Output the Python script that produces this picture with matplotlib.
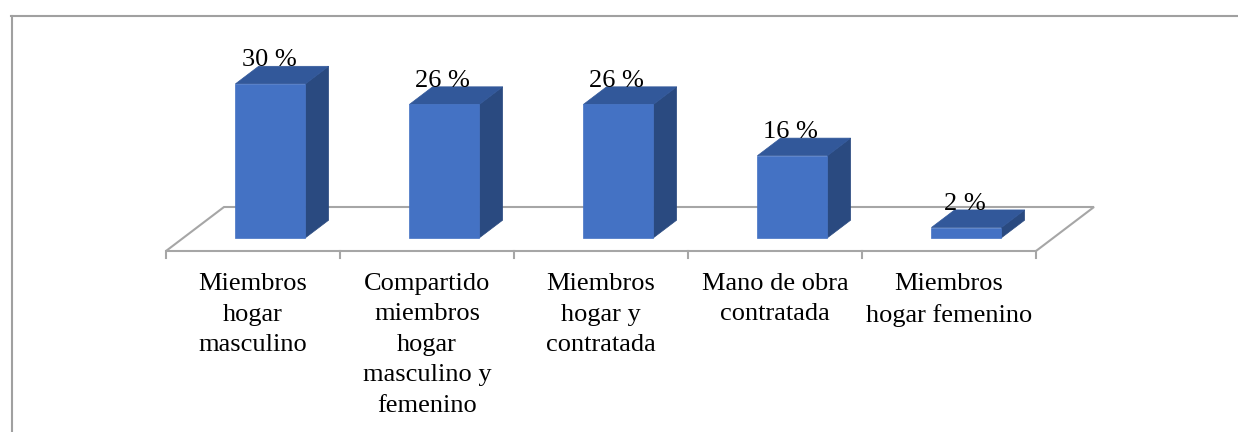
import matplotlib
matplotlib.use("Agg")
import matplotlib.pyplot as plt
from matplotlib.patches import Polygon
from matplotlib.lines import Line2D

categories = ["Miembros\nhogar\nmasculino",
              "Compartido\nmiembros\nhogar\nmasculino y\nfemenino",
              "Miembros\nhogar y\ncontratada",
              "Mano de obra\ncontratada",
              "Miembros\nhogar femenino"]
values = [30, 26, 26, 16, 2]
value_labels = ["30 %", "26 %", "26 %", "16 %", "2 %"]

plt.rcParams['font.family'] = ['Liberation Serif', 'DejaVu Serif']

W, H = 1238, 432
fig = plt.figure(figsize=(W / 100, H / 100), dpi=100)
ax = fig.add_axes([0, 0, 1, 1])
ax.set_axis_off()

# pixel scale
PX_CAT = 174.0      # px per category
PX_VAL = 5.13       # px per percent
X0_PX = 253.0       # px of first category centre (front)
FLOOR_PX = 251.0    # px from top of floor front edge

ax.set_xlim((0 - X0_PX) / PX_CAT, (W - X0_PX) / PX_CAT)
ax.set_ylim(-(H - FLOOR_PX) / PX_VAL, FLOOR_PX / PX_VAL)

DX = 58.0 / PX_CAT   # full depth shift in x (category units)
DY = 44.0 / PX_VAL   # full depth shift in y (percent units)

def proj(c, v, d):
    return (c + d * DX, v + d * DY)

n = len(categories)
floor_col = '#A6A6A6'
# floor parallelogram
fl = [proj(-0.5, 0, 0), proj(n - 0.5, 0, 0), proj(n - 0.5, 0, 1), proj(-0.5, 0, 1)]
ax.add_patch(Polygon(fl, closed=True, facecolor='white', edgecolor=floor_col,
                     linewidth=1.5, zorder=1))
# ticks on front edge
tick_len = 7.0 / PX_VAL
for i in range(n + 1):
    x = -0.5 + i
    ax.add_line(Line2D([x, x], [0, -tick_len], color=floor_col, linewidth=1.5, zorder=1))

# bars
front_c = '#4472C4'
top_c = '#32589A'
side_c = '#2A4A80'
bw = 70.0 / PX_CAT
d0, d1 = 0.3, 0.7
for i, v in enumerate(values):
    xl, xr = i - bw / 2, i + bw / 2
    front = [proj(xl, 0, d0), proj(xr, 0, d0), proj(xr, v, d0), proj(xl, v, d0)]
    top = [proj(xl, v, d0), proj(xr, v, d0), proj(xr, v, d1), proj(xl, v, d1)]
    side = [proj(xr, 0, d0), proj(xr, 0, d1), proj(xr, v, d1), proj(xr, v, d0)]
    ax.add_patch(Polygon(side, closed=True, facecolor=side_c, edgecolor=side_c,
                         linewidth=0.5, zorder=3))
    ax.add_patch(Polygon(top, closed=True, facecolor=top_c, edgecolor=top_c,
                         linewidth=0.5, zorder=3))
    ax.add_patch(Polygon(front, closed=True, facecolor=front_c, edgecolor=front_c,
                         linewidth=0.5, zorder=4))
    lx, ly = proj(i, v, d1)
    fx, _ = proj(i, v, d0)
    ax.text(fx - 1.5 / PX_CAT, ly, value_labels[i], ha='center', va='baseline',
            fontsize=19, color='black', zorder=6)

# category labels
for i, lab in enumerate(categories):
    ax.text(i, -22.0 / PX_VAL, lab, ha='center', va='top', fontsize=19,
            linespacing=1.5, color='black', multialignment='center')

# outer frame (top and left)
fig.add_artist(Line2D([11 / W, 1.0], [1 - 15.5 / H, 1 - 15.5 / H],
                      transform=fig.transFigure, color='#A0A0A0', linewidth=1.5))
fig.add_artist(Line2D([12 / W, 12 / W], [0, 1 - 15.5 / H],
                      transform=fig.transFigure, color='#A0A0A0', linewidth=1.5))

fig.savefig('out.png', dpi=100)
